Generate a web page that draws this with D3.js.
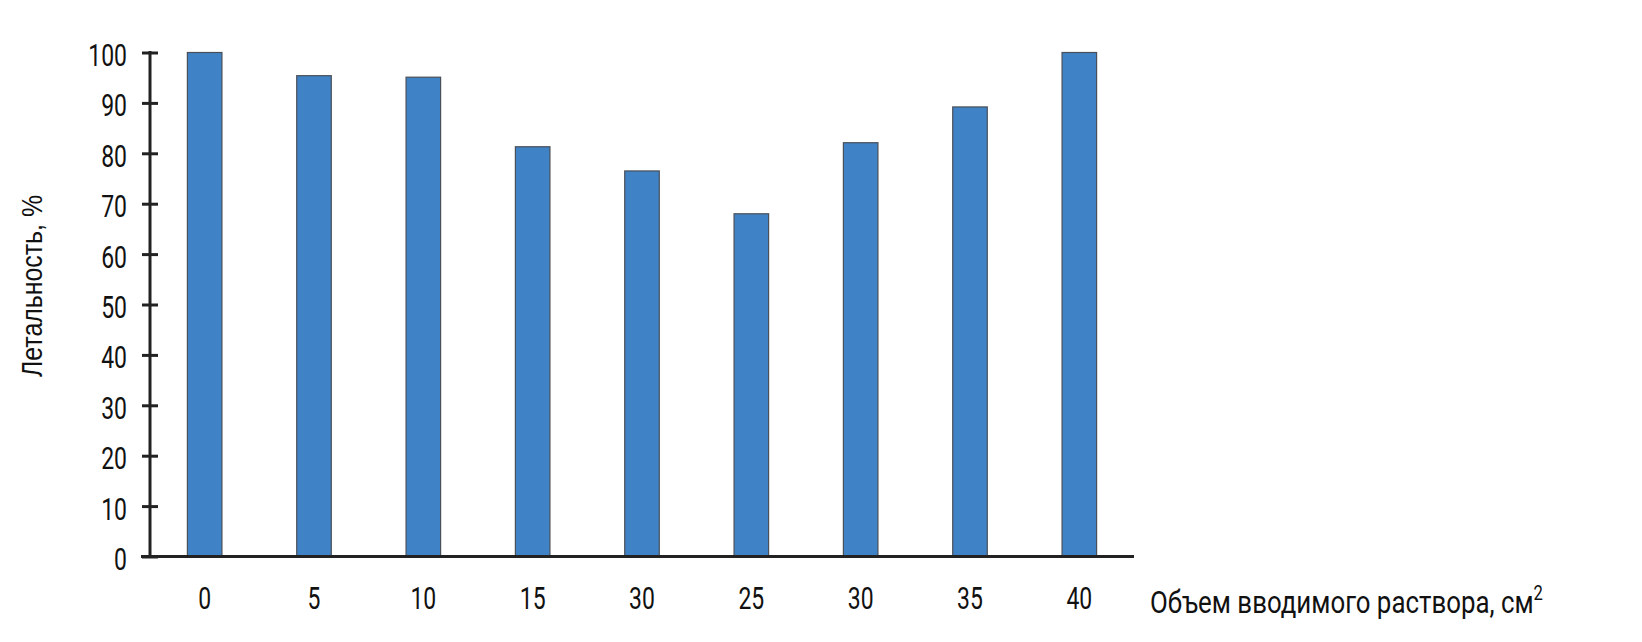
<!DOCTYPE html>
<html>
<head>
<meta charset="utf-8">
<script src="https://cdn.jsdelivr.net/npm/d3@7"></script>
<style>
  body { margin: 0; background: #fff; }
  text { font-family: Roboto, "DejaVu Sans Condensed", sans-serif; fill: #111; }
</style>
</head>
<body>
<div id="chart"></div>
<script>
// x labels as printed in the source (note the repeated "30")
var categories = ["0", "5", "10", "15", "30", "25", "30", "35", "40"];
// lethality, %
var lethality = [100, 95.4, 95.1, 81.3, 76.5, 68.0, 82.1, 89.2, 100];
var yTicks = [0, 10, 20, 30, 40, 50, 60, 70, 80, 90, 100];

var svgWidth = 1642;
var svgHeight = 642;

var svg = d3.select("#chart")
  .append("svg")
  .attr("width", svgWidth)
  .attr("height", svgHeight);

// squeeze text horizontally, the source uses a condensed face
function condense(sel, k) {
  sel.each(function() {
    var w = this.getComputedTextLength();
    d3.select(this)
      .attr("textLength", w * k)
      .attr("lengthAdjust", "spacingAndGlyphs");
  });
}

// plot area
var x0 = 150, x1 = 1134;
var yTop = 52.5, yBottom = 556.5;

// band scale over indexes, since "30" appears twice
var xScale = d3.scaleBand()
  .domain(d3.range(categories.length))
  .range([x0, x1])
  .paddingInner(0.684)
  .paddingOuter(0.342);

var yScale = d3.scaleLinear()
  .domain([0, 100])
  .range([yBottom, yTop]);

// bars
svg.selectAll("rect.bar")
  .data(lethality)
  .enter()
  .append("rect")
  .attr("class", "bar")
  .attr("x", (d, i) => xScale(i))
  .attr("y", d => yScale(d))
  .attr("width", xScale.bandwidth())
  .attr("height", d => yScale(0) - yScale(d))
  .attr("fill", "#3f83c6")
  .attr("stroke", "#4a4f57")
  .attr("stroke-width", 1.2);

// y axis: ticks cross the line on both sides
var leftAxis = d3.axisLeft(yScale)
  .tickValues(yTicks)
  .tickSize(8)
  .tickPadding(15);

var yAxisG = svg.append("g")
  .attr("transform", `translate(${x0}, 0)`)
  .call(leftAxis);
yAxisG.select(".domain").remove();
yAxisG.selectAll(".tick line")
  .attr("x1", 8)
  .attr("x2", -8)
  .attr("stroke", "#222")
  .attr("stroke-width", 3);
yAxisG.selectAll(".tick text")
  .attr("dy", "0.42em")
  .style("font-family", "Roboto, sans-serif")
  .style("font-size", "31px")
  .call(condense, 0.74);

svg.append("line")
  .attr("x1", x0).attr("x2", x0)
  .attr("y1", yTop - 1.5).attr("y2", yBottom + 1.5)
  .attr("stroke", "#222")
  .attr("stroke-width", 3);

// x axis
var bottomAxis = d3.axisBottom(xScale)
  .tickFormat(i => categories[i])
  .tickSize(0)
  .tickPadding(30);

var xAxisG = svg.append("g")
  .attr("transform", `translate(0, ${yBottom})`)
  .call(bottomAxis);
xAxisG.select(".domain").remove();
xAxisG.selectAll(".tick text")
  .attr("y", 0)
  .attr("dy", 52)
  .style("font-family", "Roboto, sans-serif")
  .style("font-size", "31px")
  .call(condense, 0.74);

svg.append("line")
  .attr("x1", 141).attr("x2", x1)
  .attr("y1", yBottom).attr("y2", yBottom)
  .attr("stroke", "#222")
  .attr("stroke-width", 3);

// axis titles
var yTitle = svg.append("text")
  .attr("transform", `translate(42, ${286}) rotate(-90)`)
  .attr("text-anchor", "middle")
  .style("font-family", "'Liberation Sans', Arial, sans-serif")
  .style("font-size", "30px")
  .text("Летальность, %");
yTitle.attr("textLength", 182).attr("lengthAdjust", "spacingAndGlyphs");

var xTitle = svg.append("text")
  .attr("x", 1150)
  .attr("y", 613)
  .style("font-size", "31px");
xTitle.append("tspan").text("Объем вводимого раствора, см");
xTitle.append("tspan")
  .attr("dy", -13)
  .style("font-size", "20px")
  .text("2");
xTitle.attr("textLength", 393).attr("lengthAdjust", "spacingAndGlyphs");
</script>
</body>
</html>
